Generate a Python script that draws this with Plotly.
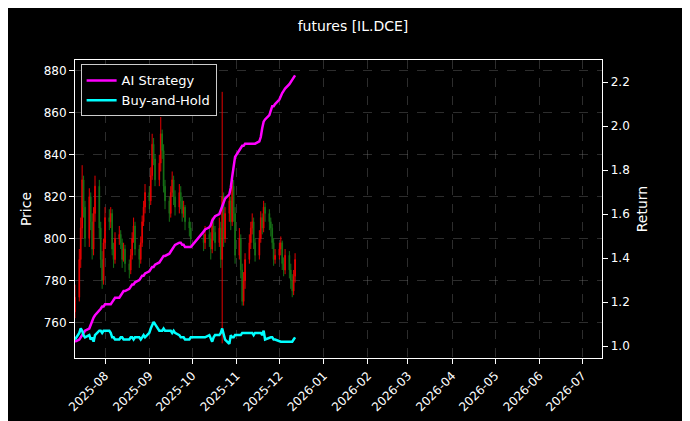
import pandas as pd
import plotly.graph_objects as go
from plotly.subplots import make_subplots

dates = [d for d in pd.bdate_range("2025-07-11", "2025-12-12")
         if not (pd.Timestamp("2025-10-01") <= d <= pd.Timestamp("2025-10-08"))]

close = [772,
 790,805,828,815,800, 820,808,795,812,825, 805,790,780,798,810, 808,812,795,790,800,
 802,798,790,795,788, 785,792,800,806,795, 790,798,808,815,822, 818,830,845,838,828,
 836,850,842,825,818, 812,822,828,820,815, 822,818,812,815,808, 805,800,798,802,
 800,795,806,803,798, 805,790,820,800,812, 818,808,825,812,792, 800,785,770,780,790,
 798,805,808,798,792, 800,810,805,815,812, 808,805,798,790,792, 795,798,788,785,792,
 785,780,775,782,790]
high = [778,
 795,810,835,830,818, 824,822,812,815,830, 828,808,794,800,815, 814,815,814,798,803,
 806,804,800,798,797, 790,795,803,810,808, 797,801,811,818,826, 825,834,850,848,840,
 840,858,852,845,828, 820,825,832,830,823, 826,825,820,818,816, 810,808,804,806,
 806,803,810,809,806, 810,808,870,822,815, 822,820,830,828,815, 805,802,788,784,793,
 802,808,812,810,800, 804,813,812,818,817, 814,810,807,800,795, 798,801,799,791,795,
 794,788,783,785,793]
low = [762,
 770,786,800,810,796, 796,804,790,792,808, 800,786,776,778,795, 804,805,792,786,788,
 797,795,786,789,784, 781,783,790,798,792, 786,788,796,806,812, 814,816,828,835,825,
 825,832,838,822,814, 808,810,820,816,811, 812,814,808,810,804, 801,796,794,795,
 796,790,793,799,794, 796,786,750,796,798, 808,804,806,808,788, 790,781,768,768,776,
 788,795,802,795,789, 790,798,802,803,808, 804,801,795,787,788, 790,792,785,782,783,
 781,776,772,773,779]
first_open = 765
open_ = [first_open] + close[:-1]

ai_return = [1.02,
 1.03,1.04,1.05,1.06,1.07, 1.08,1.10,1.12,1.13,1.14, 1.16,1.17,1.18,1.18,1.19, 1.19,1.19,1.20,1.21,1.22,
 1.22,1.23,1.24,1.25,1.25, 1.26,1.27,1.28,1.28,1.29, 1.30,1.31,1.32,1.32,1.33, 1.34,1.35,1.36,1.36,1.37,
 1.38,1.39,1.40,1.41,1.41, 1.42,1.43,1.44,1.45,1.46, 1.47,1.47,1.46,1.46,1.45, 1.45,1.45,1.52,1.53,
 1.54,1.55,1.57,1.58,1.59, 1.60,1.62,1.64,1.65,1.67, 1.69,1.72,1.77,1.82,1.86, 1.89,1.90,1.91,1.91,1.92,
 1.92,1.92,1.92,1.92,1.92, 1.93,1.95,1.99,2.02,2.03, 2.05,2.07,2.09,2.09,2.10, 2.12,2.14,2.15,2.16,2.17,
 2.19,2.20,2.21,2.22,2.23]
bh_return = [1.03,
 1.06,1.08,1.07,1.05,1.04, 1.05,1.03,1.04,1.02,1.05, 1.07,1.07,1.06,1.07,1.07, 1.07,1.06,1.04,1.04,1.03,
 1.03,1.04,1.04,1.03,1.03, 1.03,1.04,1.04,1.03,1.04, 1.04,1.03,1.04,1.05,1.04, 1.06,1.08,1.10,1.11,1.10,
 1.07,1.07,1.07,1.08,1.07, 1.07,1.07,1.06,1.07,1.06, 1.05,1.04,1.04,1.04,1.03, 1.03,1.04,1.04,1.04,
 1.05,1.03,1.02,1.04,1.05, 1.05,1.06,1.08,1.05,1.03, 1.01,1.05,1.04,1.04,1.05, 1.05,1.05,1.06,1.06,1.06,
 1.06,1.06,1.06,1.05,1.06, 1.06,1.06,1.05,1.07,1.03, 1.04,1.04,1.04,1.03,1.03, 1.02,1.02,1.02,1.02,1.02,
 1.02,1.02,1.02,1.03,1.04]

fig = make_subplots(specs=[[{"secondary_y": True}]])
fig.add_trace(go.Candlestick(x=dates, open=open_, high=high, low=low, close=close,
    increasing=dict(line=dict(color="#ff0000", width=1), fillcolor="#ff0000"),
    decreasing=dict(line=dict(color="#1a7f1a", width=1), fillcolor="#1a7f1a"),
    showlegend=False, opacity=0.9), secondary_y=False)
fig.add_trace(go.Scatter(x=dates, y=ai_return, mode="lines", name="AI Strategy",
    line=dict(color="#ff00ff", width=2.5)), secondary_y=True)
fig.add_trace(go.Scatter(x=dates, y=bh_return, mode="lines", name="Buy-and-Hold",
    line=dict(color="#00ffff", width=2.5)), secondary_y=True)

grid = dict(showgrid=True, gridcolor="rgba(128,128,128,0.35)", griddash="dash", gridwidth=0.5)
fig.update_layout(
    width=690, height=421, paper_bgcolor="black", plot_bgcolor="black",
    font=dict(family="DejaVu Sans", color="white", size=12),
    title=dict(text="futures [IL.DCE]", x=0.5, xanchor="center", y=0.957, yanchor="middle",
               yref="container", font=dict(size=14)),
    margin=dict(l=67, r=62, t=52, b=71),
    legend=dict(x=0.01, y=0.985, xanchor="left", yanchor="top", bgcolor="black",
                bordercolor="#cccccc", borderwidth=1, font=dict(size=13)),
    xaxis=dict(rangeslider=dict(visible=False), range=["2025-07-11", "2026-07-15"], automargin=False,
               dtick="M1", tickformat="%Y-%m", tickangle=-45, showline=True, linecolor="white",
               mirror=True, ticks="outside", tickcolor="white", **grid),
)
fig.update_yaxes(title_text="Price", range=[743, 885.2], dtick=20, showline=True, linecolor="white",
                 ticks="outside", tickcolor="white", automargin=False, title_standoff=8,
                 secondary_y=False, **grid)
fig.update_yaxes(title_text="Return", range=[0.946, 2.30], dtick=0.2, tickformat=".1f", showgrid=False,
                 showline=True, linecolor="white", ticks="outside", tickcolor="white",
                 automargin=False, title_standoff=8, secondary_y=True)
fig.write_html("out.html")
